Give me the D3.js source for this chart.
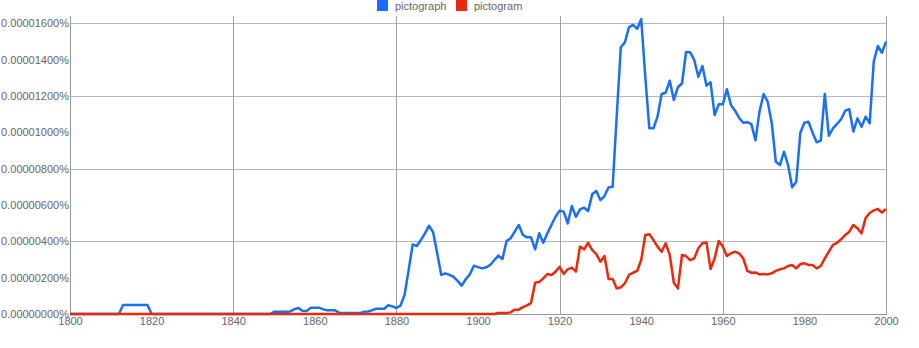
<!DOCTYPE html>
<html>
<head>
<meta charset="utf-8">
<script src="https://cdn.jsdelivr.net/npm/d3@7"></script>
<style>
  html, body { margin: 0; padding: 0; background: #fff; }
  svg { display: block; }
  text { font-family: Arial, "Liberation Sans", sans-serif; }
</style>
</head>
<body>
<svg id="chart" width="919" height="348"></svg>
<script>
// Years shown on the x axis
const startYear = 1800;
const endYear = 2000;

// Series names (legend)
const seriesNames = ["pictograph", "pictogram"];
const seriesColors = ["#1a6ff5", "#e8290b"];

// Values in units of 1e-8 percent (1600 -> 0.00001600%), one per year 1800..2000
const pictograph = [
  0,0,0,0,0,0,0,0,0,0,
  0,0,0,50,50,50,50,50,50,50,
  0,0,0,0,0,0,0,0,0,0,
  0,0,0,0,0,0,0,0,0,0,
  0,0,0,0,0,0,0,0,0,0,
  12,12,12,12,14,27,33,16,16,35,
  35,35,27,20,20,20,7,5,5,5,
  5,5,12,14,20,29,29,29,48,42,
  33,46,105,242,383,374,407,444,486,450,
  334,215,224,215,205,182,156,191,218,266,
  258,251,257,270,297,321,303,402,417,453,
  490,435,422,422,356,444,392,444,490,535,
  569,563,499,594,535,576,585,567,660,677,
  627,649,697,700,1090,1468,1495,1578,1591,1569,
  1624,1306,1022,1022,1086,1211,1218,1284,1178,1248,
  1270,1442,1440,1398,1306,1365,1257,1275,1095,1154,
  1154,1237,1150,1119,1079,1053,1056,1045,956,1114,
  1211,1169,1050,838,820,893,820,697,728,998,
  1053,1058,998,945,954,1211,981,1022,1046,1072,
  1119,1127,1004,1077,1031,1086,1050,1389,1475,1438,
  1499
];

const pictogram = [
  0,0,0,0,0,0,0,0,0,0,
  0,0,0,0,0,0,0,0,0,0,
  0,0,0,0,0,0,0,0,0,0,
  0,0,0,0,0,0,0,0,0,0,
  0,0,0,0,0,0,0,0,0,0,
  0,0,0,0,0,0,0,0,0,0,
  0,0,0,0,0,0,0,0,0,0,
  0,0,0,0,0,0,0,0,0,0,
  0,0,0,0,0,0,0,0,0,0,
  0,0,0,0,0,0,0,0,0,0,
  0,0,0,0,0,5,5,5,9,24,
  24,38,48,60,172,176,196,220,215,233,
  260,220,246,255,233,371,356,392,352,330,
  288,319,193,193,141,147,169,215,227,237,
  297,435,439,407,371,343,389,325,172,141,
  325,319,297,306,362,389,394,248,306,402,
  371,319,334,343,334,306,237,227,229,218,
  220,218,224,237,246,251,264,270,251,275,
  279,270,270,251,264,306,343,380,392,411,
  435,453,490,472,444,528,556,570,578,559,
  578
];

// Axis ticks
const xTicks = [1800, 1820, 1840, 1860, 1880, 1900, 1920, 1940, 1960, 1980, 2000];
const xGrid = [1840, 1880, 1920, 1960, 2000];
const yTicks = [0, 200, 400, 600, 800, 1000, 1200, 1400, 1600];
const yGrid = [400, 800, 1200, 1600];

const svg = d3.select("#chart");
const x = d3.scaleLinear().domain([startYear, endYear]).range([70, 886]);
const y = d3.scaleLinear().domain([0, 1600]).range([314, 23.3]);
const plotTop = 16;

const years = d3.range(startYear, endYear + 1);

// gridlines
svg.append("g").selectAll("line").data(yGrid).join("line")
  .attr("x1", x(startYear)).attr("x2", x(endYear))
  .attr("y1", d => Math.round(y(d)) + 0.5).attr("y2", d => Math.round(y(d)) + 0.5)
  .attr("stroke", "#b8b8b8").attr("stroke-width", 1);
svg.append("g").selectAll("line").data(xGrid).join("line")
  .attr("x1", d => Math.round(x(d)) + 0.5).attr("x2", d => Math.round(x(d)) + 0.5)
  .attr("y1", plotTop).attr("y2", y(0))
  .attr("stroke", "#a0a0a0").attr("stroke-width", 1);

// axis lines
svg.append("line").attr("x1", x(startYear) + 0.5).attr("x2", x(startYear) + 0.5)
  .attr("y1", plotTop).attr("y2", y(0)).attr("stroke", "#999");
svg.append("line").attr("x1", x(startYear)).attr("x2", x(endYear) + 1)
  .attr("y1", Math.round(y(0)) + 0.5).attr("y2", Math.round(y(0)) + 0.5).attr("stroke", "#999");

// y axis labels
const yAxis = d3.axisLeft(y).tickValues(yTicks).tickSize(0).tickPadding(1)
  .tickFormat(d => d3.format(".8f")(d * 1e-8) + "%");
const gy = svg.append("g").attr("transform", `translate(${x(startYear)},0)`).call(yAxis);
gy.select(".domain").remove();
gy.selectAll("text").attr("font-size", 11).attr("fill", "#666")
  .attr("font-family", "Arial, 'Liberation Sans', sans-serif");

// x axis labels
const xAxis = d3.axisBottom(x).tickValues(xTicks).tickSize(0).tickPadding(3)
  .tickFormat(d3.format("d"));
const gx = svg.append("g").attr("transform", `translate(0,${y(0)})`).call(xAxis);
gx.select(".domain").remove();
gx.selectAll("text").attr("font-size", 11).attr("fill", "#666")
  .attr("font-family", "Arial, 'Liberation Sans', sans-serif");

// lines
const line = d3.line().x((d, i) => x(years[i])).y(d => y(d));
[pictograph, pictogram].forEach((s, i) => {
  svg.append("path").datum(s)
    .attr("fill", "none")
    .attr("stroke", seriesColors[i])
    .attr("stroke-width", 2.5)
    .attr("stroke-linejoin", "round")
    .attr("d", line);
});

// legend
const legendX = [377, 456];
const lg = svg.append("g");
seriesNames.forEach((name, i) => {
  lg.append("rect").attr("x", legendX[i]).attr("y", 0).attr("width", 11).attr("height", 11)
    .attr("fill", seriesColors[i]);
  lg.append("text").attr("x", legendX[i] + 18).attr("y", 9.5)
    .attr("font-size", 11).attr("fill", "#666").text(name);
});
</script>
</body>
</html>
